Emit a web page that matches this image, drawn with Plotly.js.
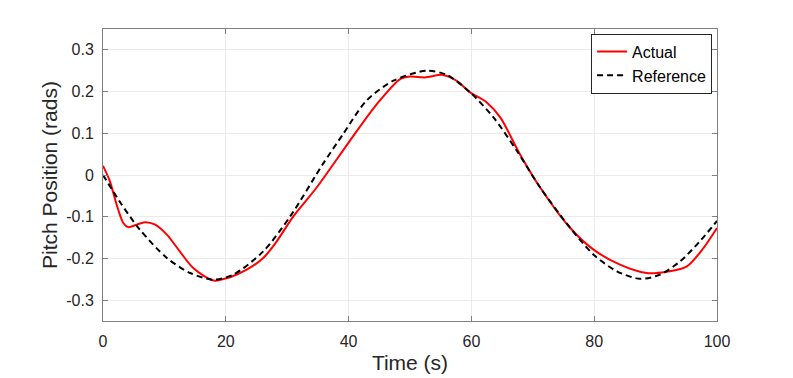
<!DOCTYPE html>
<html>
<head>
<meta charset="utf-8">
<script src="https://cdn.plot.ly/plotly-3.0.1.min.js"></script>
<style>
  html, body { margin: 0; padding: 0; background: #fff; }
  #chart { width: 793px; height: 378px; }
</style>
</head>
<body>
<div id="chart"></div>
<script>
// reference pitch trajectory (dashed black)
var timeRef = [0, 3, 6, 10.4, 14.2, 18, 21.2, 26.1, 30.5, 35.8, 39.1, 42.9, 47.3, 52.7, 56,
               59.8, 63.6, 67.4, 71.2, 76.1, 79.9, 83.7, 87.5, 90.7, 94, 97.2, 100];
var pitchRef = [0, -0.07, -0.131, -0.199, -0.235, -0.251, -0.239, -0.183, -0.099, 0.026, 0.098, 0.178, 0.226, 0.25, 0.24,
                0.198, 0.138, 0.058, -0.03, -0.127, -0.191, -0.231, -0.249, -0.239, -0.207, -0.159, -0.11];

// measured pitch (red)
var timeAct = [0, 1.1, 2.2, 3.3, 4.1, 5.5, 6.8, 8.5, 10.4, 12.5, 14.7, 18, 20.7, 23.4, 26.1, 28.3,
               31, 34.8, 40.2, 44.6, 48.4, 50, 52.4, 55.4, 57.6, 59.8, 62.5, 64.7, 67.9, 71.2,
               76.1, 79.9, 84.2, 88.5, 91.8, 95.1, 97.8, 100];
var pitchAct = [0.022, -0.014, -0.07, -0.115, -0.125, -0.119, -0.113, -0.119, -0.143, -0.183, -0.223, -0.253, -0.245, -0.227, -0.199, -0.159,
                -0.099, -0.03, 0.082, 0.17, 0.23, 0.236, 0.234, 0.24, 0.226, 0.198, 0.174, 0.138, 0.05, -0.03,
                -0.127, -0.179, -0.215, -0.235, -0.232, -0.219, -0.175, -0.127];

var xTicks = [0, 20, 40, 60, 80, 100];
var yTicks = [-0.3, -0.2, -0.1, 0, 0.1, 0.2, 0.3];
var yTickText = ['-0.3', '-0.2', '-0.1', '0', '0.1', '0.2', '0.3'];

var traces = [
  {
    x: timeAct, y: pitchAct, name: 'Actual', type: 'scatter', mode: 'lines',
    line: {color: '#ff0000', width: 2, shape: 'spline', smoothing: 0.8}
  },
  {
    x: timeRef, y: pitchRef, name: 'Reference', type: 'scatter', mode: 'lines',
    line: {color: '#000000', width: 2, dash: '6px,4px', shape: 'spline', smoothing: 0.8}
  }
];

var fam = 'Liberation Sans, Arial, sans-serif';
var tickFont = {family: fam, size: 16, color: '#262626'};
var titleFont = {family: fam, size: 21, color: '#262626'};

var layout = {
  width: 793, height: 378,
  margin: {l: 103, r: 76, t: 29, b: 57},
  paper_bgcolor: '#ffffff', plot_bgcolor: '#ffffff',
  font: tickFont,
  showlegend: true,
  legend: {
    x: 0.992, y: 0.984, xanchor: 'right', yanchor: 'top',
    bgcolor: '#ffffff', bordercolor: '#262626', borderwidth: 1,
    font: {family: fam, size: 16, color: '#000000'},
    tracegroupgap: 0, itemwidth: 30
  },
  xaxis: {
    range: [0, 100], tickvals: xTicks,
    showgrid: true, gridcolor: '#ebebeb', zeroline: false,
    showline: true, linecolor: '#808080', mirror: 'ticks',
    ticks: 'inside', ticklen: 5, tickcolor: '#808080',
    tickfont: tickFont, ticklabelstandoff: 6,
    title: {text: 'Time (s)', font: titleFont, standoff: 6}
  },
  yaxis: {
    range: [-0.35, 0.35], tickvals: yTicks, ticktext: yTickText,
    showgrid: true, gridcolor: '#ebebeb', zeroline: false,
    showline: true, linecolor: '#808080', mirror: 'ticks',
    ticks: 'inside', ticklen: 5, tickcolor: '#808080',
    tickfont: tickFont, ticklabelstandoff: 5,
    title: {text: 'Pitch Position (rads)', font: titleFont, standoff: 2}
  }
};

Plotly.newPlot('chart', traces, layout, {displayModeBar: false, staticPlot: true});
</script>
</body>
</html>
